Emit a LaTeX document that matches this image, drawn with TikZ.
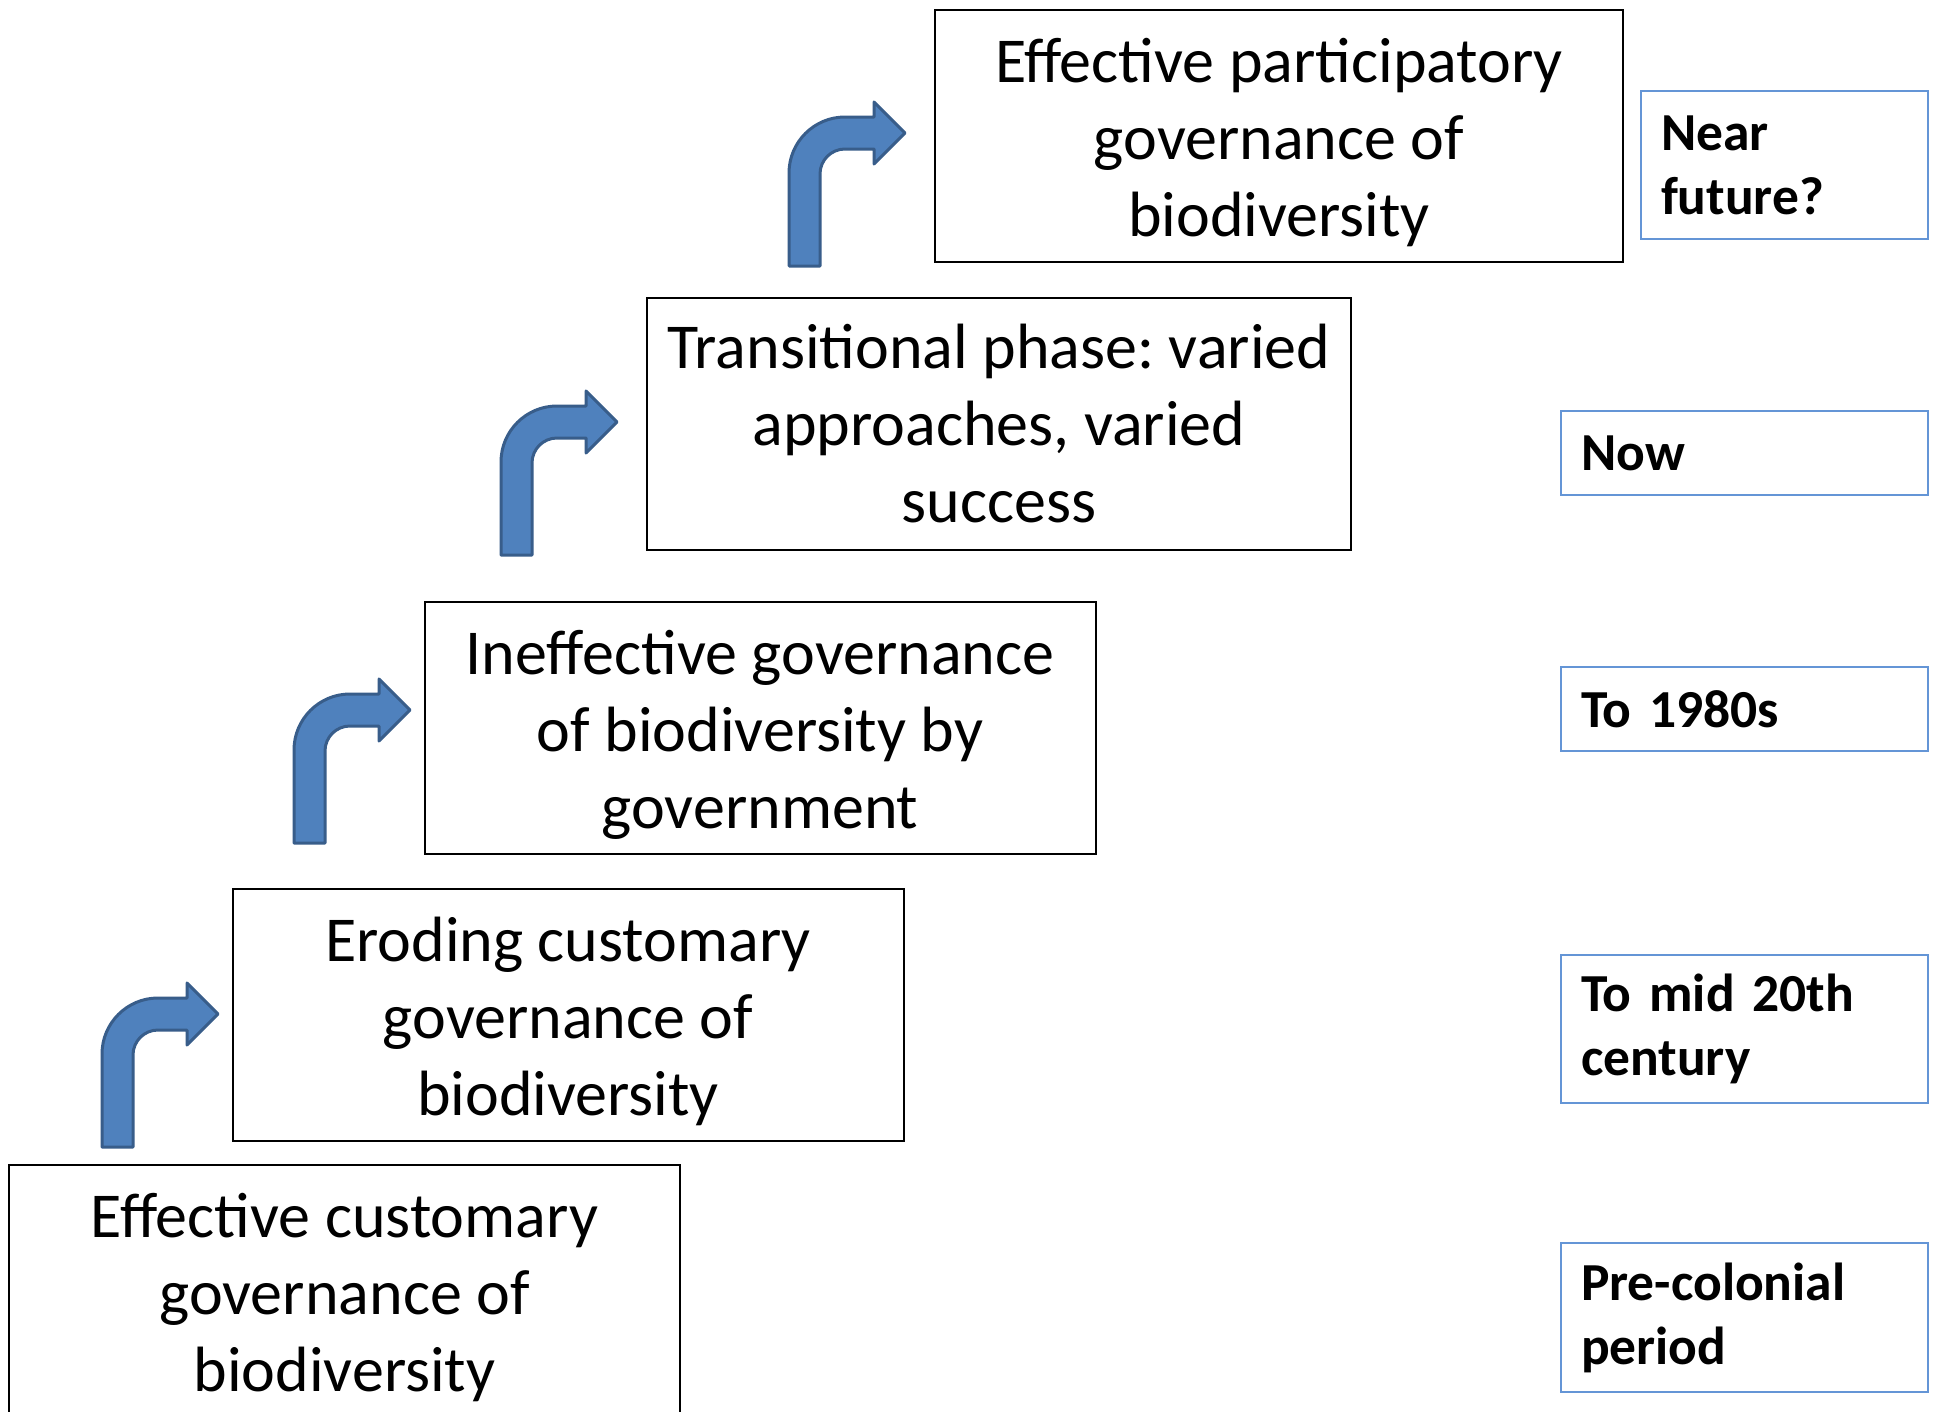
\documentclass[tikz,border=0pt]{standalone}
\usepackage{fontspec}
\setmainfont{Carlito}
\frenchspacing
% invisible prop that lowers the three text lines a little inside a stage box
\newcommand\stagelift{\rule{0pt}{57pt}}
% bold period labels with slightly tighter word spacing
\DeclareRobustCommand\periodfont{\fontsize{53.5}{64}\selectfont\bfseries\spaceskip=0.17em\relax}
\begin{document}
\begin{tikzpicture}[x=1pt,y=1pt,
  stage/.style={draw=black,line width=2pt,fill=white,align=center,
    minimum width=671pt,minimum height=252pt,inner sep=0pt,
    font=\fontsize{64}{77}\selectfont},
  period/.style={draw=periodblue,line width=2pt,align=left,anchor=north west,
    minimum height=84pt,inner xsep=20pt,inner ysep=0pt,
    font=\periodfont},
  bentarrow/.pic={
    \filldraw[fill=arrowfill,draw=arrowedge,line width=3pt,line join=round]
      (0,0) -- (31,0) -- (31,92) arc[start angle=180,end angle=90,radius=25]
      -- (85,117) -- (85,102) -- (116,133) -- (85,164) -- (85,149) -- (56,149)
      arc[start angle=90,end angle=180,radius=56] -- cycle;
  }]
\definecolor{periodblue}{HTML}{6495D6}
\definecolor{arrowfill}{HTML}{4F81BD}
\definecolor{arrowedge}{HTML}{385D8A}
\useasboundingbox (0,0) rectangle (1937,-1411);
\fill[white] (0,0) rectangle (1937,-1411);

% governance stages, climbing from bottom left
\node[stage] (s1) at (344.5,-1291) {\stagelift Effective customary\\governance of\\biodiversity};
\node[stage] (s2) at (568,-1015) {\stagelift Eroding customary\\governance of\\biodiversity};
\node[stage] (s3) at (760,-728) {\stagelift Ineffective governance\\of biodiversity by\\government};
\node[stage,minimum width=704pt] (s4) at (999,-424) {Transitional phase: varied\\approaches, varied\\success};
\node[stage,minimum width=688pt] (s5) at (1279,-136) {\stagelift Effective participatory\\governance of\\biodiversity};

% step arrows between stages
\pic at (102,-1147) {bentarrow};
\pic at (294,-843) {bentarrow};
\pic at (501,-555) {bentarrow};
\pic at (789,-266) {bentarrow};

% time periods
\node[period,minimum width=287pt,minimum height=148pt,text width=247pt] (p5) at (1640,-90) {Near\\future?};
\node[period,minimum width=367pt,text width=327pt] (p4) at (1560,-410) {Now};
\node[period,minimum width=367pt,text width=327pt] (p3) at (1560,-666) {To 1980s};
\node[period,minimum width=367pt,minimum height=148pt,text width=327pt] (p2) at (1560,-954) {To mid 20th\\century};
\node[period,minimum width=367pt,minimum height=149pt,text width=327pt] (p1) at (1560,-1242) {Pre-colonial\\period};
\end{tikzpicture}
\end{document}
